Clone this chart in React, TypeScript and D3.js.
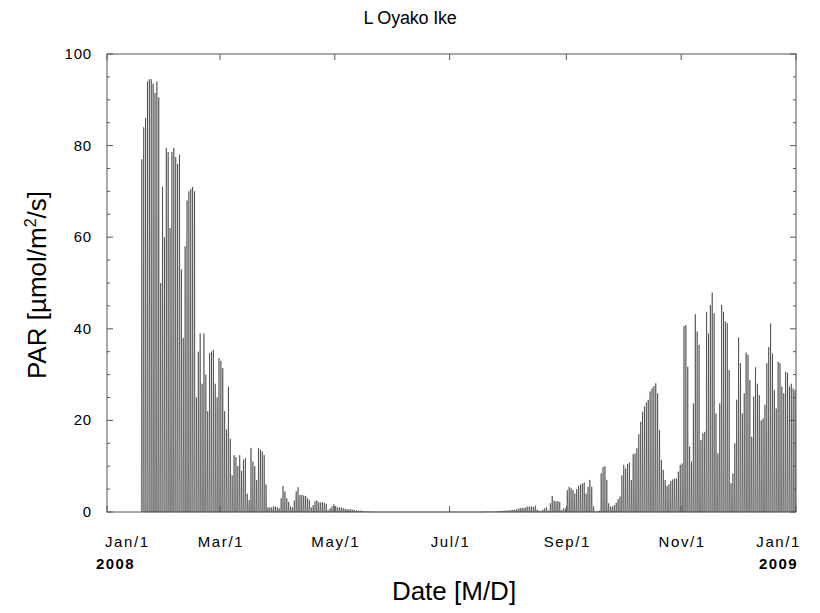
import React from "react";
import * as d3 from "d3";

// Daily maximum PAR [µmol/m²/s], day index 0 = 2008-01-01 (null = no data)
const startDay = 18;
const dailyPeak: number[] = [
  // Jan 19 – Jan 31 (days 18-30)
  77, 84, 86, 94, 94.5, 94.5, 93.5, 91.5, 94, 90.5, 50, 71, 60,
  // Feb 1 – Feb 29 (days 31-59)
  79.5, 78.6, 62, 78.6, 79.5, 77.5, 76, 78, 53, 38, 58, 68, 70, 70.5, 71, 70,
  25, 35, 39, 28, 39, 30, 22, 34.7, 35, 35.4, 28, 25, 33.6,
  // Mar (days 60-90)
  33, 31.4, 22, 18, 27.4, 16, 8, 12.4, 12, 10, 12.4, 9, 11.4, 11.8, 4, 2.6,
  14, 11, 10, 7, 14, 13.6, 13.2, 12.4, 6, 1, 1, 1, 1.2, 1.2, 1,
  // Apr (days 91-120)
  0.8, 3, 5.7, 4.5, 3, 2.2, 1.2, 1, 2.5, 4.5, 5.4, 3.7, 3.7, 3.6, 3.5, 3,
  2.6, 1, 1.5, 2.3, 2.5, 2.1, 2.1, 2.1, 2, 1.8, 0.4, 0.8, 1.2, 1.7,
  // May (days 121-151)
  1.3, 1, 1, 1, 0.8, 0.7, 0.6, 0.6, 0.55, 0.5, 0.4, 0.35, 0.3, 0.3, 0.25,
  0.2, 0.15, 0.15, 0.1, 0, 0, 0, 0, 0, 0, 0, 0, 0, 0, 0, 0,
  // Jun (days 152-181)
  0, 0, 0, 0, 0, 0, 0, 0, 0, 0, 0, 0, 0, 0, 0, 0, 0, 0, 0, 0, 0, 0, 0, 0,
  0, 0, 0, 0, 0, 0,
  // Jul (days 182-212)
  0, 0, 0, 0, 0, 0, 0, 0, 0, 0, 0, 0, 0, 0, 0, 0, 0, 0, 0.1, 0.1, 0.1, 0.1,
  0.1, 0.1, 0.1, 0.2, 0.2, 0.25, 0.25, 0.3, 0.3,
  // Aug (days 213-243)
  0.35, 0.4, 0.45, 0.5, 0.6, 0.7, 0.85, 0.9, 0.9, 1, 1.2, 1.2, 1.2, 1.1,
  1.4, 0.5, 0.3, 0.2, 0.5, 0.8, 1, 0.3, 1.9, 3.5, 2.5, 2.3, 2.4, 2.2, 0.4,
  0.8, 0.7,
  // Sep (days 244-273)
  4.8, 5.5, 5.2, 4.8, 4, 5, 5.7, 6, 6.2, 6.4, 4, 5.5, 7, 5.5, 1.2, 0.1, 0.2,
  0.3, 8.4, 9.8, 10, 7, 1.9, 1.2, 1.2, 1.5, 2, 2.8, 3.4, 8,
  // Oct (days 274-304)
  10.3, 9.5, 10.5, 10.8, 7, 12.6, 12.8, 13.9, 17, 19.7, 21.9, 23, 23.9, 24.5,
  26.3, 27, 27.5, 28.1, 25.9, 17.9, 11.4, 9.2, 7, 5.7, 6.1, 6.8, 7.1, 7.3,
  7.3, 8.8, 10.3,
  // Nov (days 305-334)
  10.6, 40.6, 40.8, 31.7, 14.3, 11, 23.7, 43.2, 39.4, 36.5, 15.7, 17.2, 17.5,
  43.7, 39, 45.2, 47.9, 43.4, 21.5, 12.8, 23.7, 45.2, 43.7, 41.6, 41.2, 31,
  6.3, 8.4, 15, 24.5,
  // Dec (days 335-365)
  38.1, 32.5, 21.5, 25.9, 34.8, 34.3, 28.8, 16.4, 25.2, 31.6, 28, 25.5, 20,
  20.4, 23.4, 32.5, 36, 41.2, 34.6, 26.6, 22.6, 32.8, 32.5, 27.4, 25.9, 30.6,
  30.4, 27.4, 28, 27, 26.6,
];

const yTicks = [0, 20, 40, 60, 80, 100];
const yMinor = [5, 10, 15, 25, 30, 35, 45, 50, 55, 65, 70, 75, 85, 90, 95];
const xTickDates = [
  new Date(2008, 0, 1),
  new Date(2008, 2, 1),
  new Date(2008, 4, 1),
  new Date(2008, 6, 1),
  new Date(2008, 8, 1),
  new Date(2008, 10, 1),
  new Date(2009, 0, 1),
];
const xTickLabels = ["Jan/1", "Mar/1", "May/1", "Jul/1", "Sep/1", "Nov/1", "Jan/1"];
const yearLabels = ["2008", "2009"];

const W = 820;
const H = 613;
const L = 107;
const R = 796;
const T = 54;
const B = 512;

export default function App() {
  const t0 = new Date(2008, 0, 1).getTime();
  const x = d3
    .scaleTime()
    .domain([new Date(2008, 0, 1), new Date(2009, 0, 1)])
    .range([L, R]);
  const y = d3.scaleLinear().domain([0, 100]).range([B, T]);
  const dayDate = (d: number) => new Date(t0 + d * 86400000);

  const pts: [number, number][] = [];
  dailyPeak.forEach((v, i) => {
    const d = startDay + i;
    pts.push([d + 0.27, 0]);
    pts.push([d + 0.5, v]);
    pts.push([d + 0.73, 0]);
  });
  const line = d3
    .line<[number, number]>()
    .x((p) => x(dayDate(p[0])))
    .y((p) => y(p[1]));

  const font = "'Liberation Sans', Arial, sans-serif";
  const n = xTickDates.length;

  return (
    <svg
      width={W}
      height={H}
      style={{ position: "absolute", left: 0, top: 0, background: "#fff" }}
      fontFamily={font}
    >
      <rect x={0} y={0} width={W} height={H} fill="#fff" />
      <text x={410} y={24} textAnchor="middle" fontSize={18} letterSpacing={-0.2}>
        L Oyako Ike
      </text>

      <path d={line(pts) || ""} fill="none" stroke="#111" strokeWidth={0.5} />

      <rect x={L} y={T} width={R - L} height={B - T} fill="none" stroke="#555" strokeWidth={1} />

      {yTicks.map((v) => (
        <g key={"y" + v}>
          <line x1={L} x2={L + 6} y1={y(v)} y2={y(v)} stroke="#555" />
          <line x1={R} x2={R - 6} y1={y(v)} y2={y(v)} stroke="#555" />
          <text x={92} y={y(v) + 5} textAnchor="end" fontSize={15} letterSpacing={0.8}>
            {v}
          </text>
        </g>
      ))}
      {yMinor.map((v) => (
        <g key={"ym" + v}>
          <line x1={L} x2={L + 3} y1={y(v)} y2={y(v)} stroke="#555" />
          <line x1={R} x2={R - 3} y1={y(v)} y2={y(v)} stroke="#555" />
        </g>
      ))}

      {xTickDates.map((dt, i) => {
        const anchor = i === 0 ? "start" : i === n - 1 ? "end" : "middle";
        const tx = i === 0 ? x(dt) - 2 : i === n - 1 ? x(dt) + 5 : x(dt) + 1;
        return (
          <g key={"x" + i}>
            <line x1={x(dt)} x2={x(dt)} y1={B} y2={B - 6} stroke="#555" />
            <line x1={x(dt)} x2={x(dt)} y1={T} y2={T + 6} stroke="#555" />
            <text x={tx} y={547} textAnchor={anchor} fontSize={15} letterSpacing={1.6}>
              {xTickLabels[i]}
            </text>
          </g>
        );
      })}
      <text x={x(xTickDates[0]) - 11} y={569} textAnchor="start" fontSize={15} fontWeight="bold" letterSpacing={1.4}>
        {yearLabels[0]}
      </text>
      <text x={x(xTickDates[n - 1]) + 2} y={569} textAnchor="end" fontSize={15} fontWeight="bold" letterSpacing={1.4}>
        {yearLabels[1]}
      </text>

      <text x={454} y={600} textAnchor="middle" fontSize={26}>
        Date [M/D]
      </text>
      <text
        transform={`translate(46,${(T + B) / 2 + 2}) rotate(-90)`}
        textAnchor="middle"
        fontSize={26}
      >
        PAR [µmol/m
        <tspan dy={-10} fontSize={16}>2</tspan>
        <tspan dy={10}>/s]</tspan>
      </text>
    </svg>
  );
}
